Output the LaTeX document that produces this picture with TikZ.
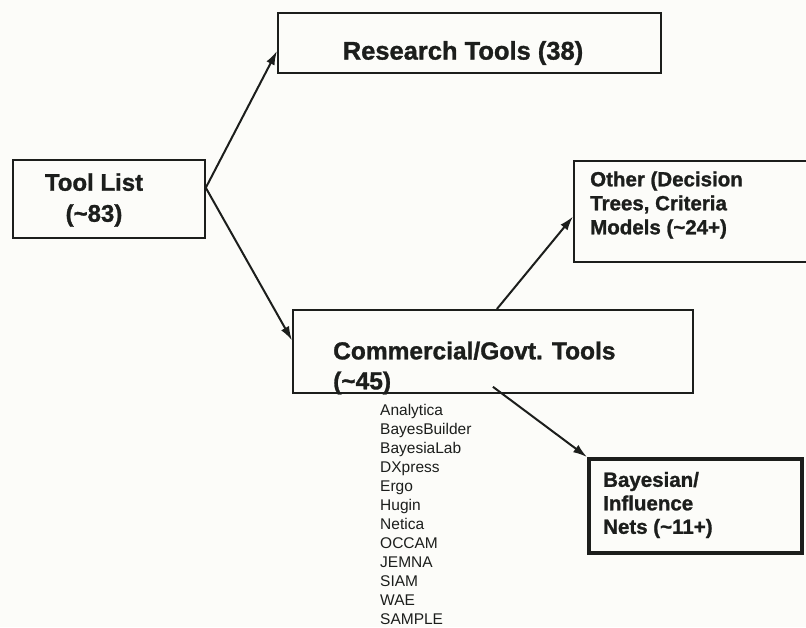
\documentclass[tikz,border=0pt]{standalone}
\usepackage{fontspec}
\setmainfont{Liberation Sans}[BoldFeatures={FakeBold=1.2}]
\usetikzlibrary{arrows.meta,calc}
\definecolor{ink}{HTML}{1C1E1C}
\definecolor{paper}{HTML}{FCFCF9}
\tikzset{
  box/.style={draw=ink, line width=1.8pt, anchor=north west, inner sep=0pt, rectangle},
  txt/.style={text=ink, inner sep=0pt, font=\bfseries},
  arr/.style={draw=ink, line width=2pt, -{Latex[length=14pt,width=9pt]}},
}
\begin{document}
\begin{tikzpicture}[x=1pt,y=-1pt]
\useasboundingbox (0,0) rectangle (806,627);
\clip (0,0) rectangle (806,627);
\fill[paper] (0,0) rectangle (806,627);
% boxes
\node[box, minimum width=383pt, minimum height=60pt] (research) at (277,12) {};
\node[box, minimum width=192pt, minimum height=78pt] (tool) at (12,159) {};
\node[box, minimum width=250pt, minimum height=101pt] (other) at (573,160) {};
\node[box, minimum width=400pt, minimum height=83pt] (comm) at (292,309) {};
\node[box, line width=3.5pt, minimum width=213pt, minimum height=94pt] (bayes) at (587,457) {};
% texts
\node[txt, font=\bfseries\fontsize{25.5}{30}\selectfont] (researchtxt) at (463,53) {Research Tools (38)};
\node[txt, align=center, font=\bfseries\fontsize{24}{31}\selectfont] (tooltxt) at (94,200) {Tool List\\(\textasciitilde83)};
\node[txt, anchor=west, align=left, font=\bfseries\fontsize{20.5}{24}\selectfont] (othertxt) at (590,205) {Other (Decision\\Trees, Criteria\\Models (\textasciitilde24+)};
\node[txt, anchor=west, align=left, font=\bfseries\fontsize{24.5}{30}\selectfont] (commtxt) at (333,368) {Commercial/Govt. Tools\\(\textasciitilde45)};
\node[txt, anchor=west, align=left, font=\bfseries\fontsize{20.5}{23.5}\selectfont] (bayestxt) at (603,505) {Bayesian/\\Influence\\Nets (\textasciitilde11+)};
\node[txt, anchor=west, align=left, font=\fontsize{15.5}{19}\selectfont] (list) at (380,514) {Analytica\\BayesBuilder\\BayesiaLab\\DXpress\\Ergo\\Hugin\\Netica\\OCCAM\\JEMNA\\SIAM\\WAE\\SAMPLE};
% connectors
\draw[arr] ($(tool.north east)!0.36!(tool.south east)$) -- ($(research.north west)!0.63!(research.south west)$);
\draw[arr] ($(tool.north east)!0.36!(tool.south east)$) -- ($(comm.north west)!0.37!(comm.south west)$);
\draw[arr] ($(comm.north west)!0.51!(comm.north east)$) -- ($(other.north west)!0.55!(other.south west)$);
\draw[arr] ([yshift=7pt]$(comm.south west)!0.5!(comm.south east)$) -- (bayes.north west);
\end{tikzpicture}
\end{document}
